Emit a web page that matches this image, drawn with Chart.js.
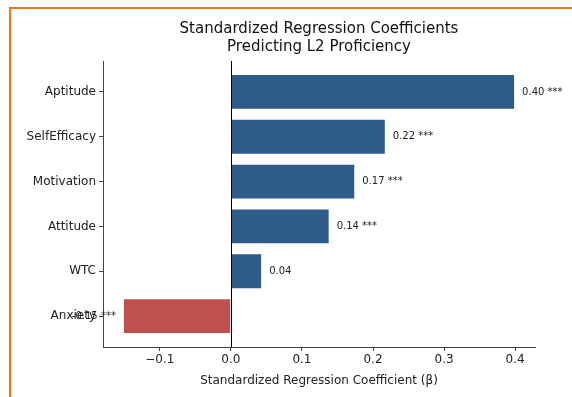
<!DOCTYPE html>
<html>
<head>
<meta charset="utf-8">
<script src="https://cdn.jsdelivr.net/npm/chart.js@4/dist/chart.umd.min.js"></script>
<style>
html,body{margin:0;padding:0;background:#fff;}
#wrap{width:572px;height:397px;position:relative;}
</style>
</head>
<body>
<div id="wrap"><canvas id="c" width="572" height="397"></canvas></div>
<script>
const categories = ['Aptitude', 'SelfEfficacy', 'Motivation', 'Attitude', 'WTC', 'Anxiety'];
const coefficients = [0.400, 0.218, 0.175, 0.139, 0.044, -0.152];
const significance = ['***', '***', '***', '***', '', '***'];
const xTicks = [-0.1, 0.0, 0.1, 0.2, 0.3, 0.4];
const titleLines = ['Standardized Regression Coefficients', 'Predicting L2 Proficiency'];
const xLabel = 'Standardized Regression Coefficient (\u03B2)';

const BLUE = '#2d5b8a';
const RED = '#c0504d';
const FONT = "'DejaVu Sans', sans-serif";

const points = categories.map((c, i) => ({ x: coefficients[i], y: i }));

const decor = {
  id: 'decor',
  afterDraw(chart) {
    const ctx = chart.ctx;
    const xs = chart.scales.x, ys = chart.scales.y;
    const a = chart.chartArea;
    ctx.save();
    // zero line
    ctx.strokeStyle = '#000';
    ctx.lineWidth = 1;
    const x0 = Math.round(xs.getPixelForValue(0)) + 0.5;
    ctx.beginPath(); ctx.moveTo(x0, a.top); ctx.lineTo(x0, a.bottom); ctx.stroke();
    // annotations
    ctx.font = '10px ' + FONT;
    ctx.fillStyle = '#222';
    ctx.textBaseline = 'middle';
    coefficients.forEach((v, i) => {
      const txt = (v.toFixed(2) + ' ' + significance[i]).trim();
      const px = xs.getPixelForValue(v);
      const py = ys.getPixelForValue(i);
      if (v >= 0) { ctx.textAlign = 'left'; ctx.fillText(txt, px + 7, py); }
      else { ctx.textAlign = 'right'; ctx.fillText(txt, px - 7, py); }
    });
    // title
    ctx.font = '15px ' + FONT;
    ctx.fillStyle = '#111';
    ctx.textAlign = 'center';
    const cx = (a.left + a.right) / 2;
    ctx.fillText(titleLines[0], cx, 29);
    ctx.fillText(titleLines[1], cx, 47);
    // orange frame
    ctx.strokeStyle = '#e8781e';
    ctx.lineWidth = 2;
    ctx.beginPath(); ctx.moveTo(10, 397); ctx.lineTo(10, 8); ctx.lineTo(572, 8); ctx.stroke();
    ctx.restore();
  }
};

new Chart(document.getElementById('c'), {
  type: 'bar',
  data: {
    datasets: [{
      data: points,
      backgroundColor: coefficients.map(v => v >= 0 ? BLUE : RED),
      borderColor: 'rgba(255,255,255,0.55)',
      borderWidth: 1,
      barPercentage: 0.8,
      categoryPercentage: 1.0
    }]
  },
  options: {
    indexAxis: 'y',
    responsive: false,
    animation: false,
    layout: { padding: { top: 61, right: 37, left: 0, bottom: 9 } },
    plugins: { legend: { display: false }, tooltip: { enabled: false }, title: { display: false } },
    scales: {
      x: {
        type: 'linear',
        min: -0.18, max: 0.428,
        afterBuildTicks(s) { s.ticks = xTicks.map(v => ({ value: v })); },
        afterFit(s) { s.height = 41; },
        ticks: {
          font: { family: FONT, size: 12 }, color: '#222', padding: 2,
          callback: v => (v < 0 ? '\u2212' : '') + Math.abs(v).toFixed(1)
        },
        grid: { display: true, offset: false, drawOnChartArea: false, drawTicks: true, tickLength: 4, tickColor: '#444' },
        border: { display: true, color: '#444', width: 1 },
        title: { display: true, text: xLabel, font: { family: FONT, size: 12 }, color: '#222', padding: { top: 3, bottom: 0 } }
      },
      y: {
        type: 'linear',
        reverse: true,
        offset: false,
        min: -0.69, max: 5.69,
        afterBuildTicks(s) { s.ticks = categories.map((c, i) => ({ value: i })); },
        afterFit(s) { s.width = 103; },
        ticks: {
          font: { family: FONT, size: 12 }, color: '#222', padding: 3,
          callback: v => categories[v]
        },
        grid: { display: true, offset: false, drawOnChartArea: false, drawTicks: true, tickLength: 4, tickColor: '#444' },
        border: { display: true, color: '#444', width: 1 }
      }
    }
  },
  plugins: [decor]
});
</script>
</body>
</html>
